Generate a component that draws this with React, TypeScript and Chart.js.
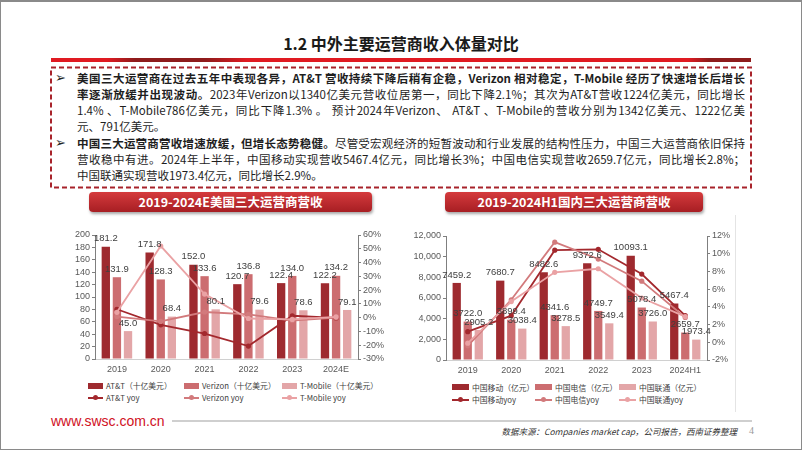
import React, { useEffect, useRef } from "react";
import { Chart, registerables } from "chart.js";

Chart.register(...registerables);

// ---------- DATA ----------
const usYears = ["2019", "2020", "2021", "2022", "2023", "2024E"];
const attRevenue = [181.2, 171.8, 152.0, 120.7, 122.4, 122.2];
const verizonRevenue = [131.9, 128.3, 133.6, 136.8, 134.0, 134.2];
const tmobileRevenue = [45.0, 68.4, 80.1, 79.6, 78.6, 79.1];
const attYoy = [6.1, -5.2, -11.5, -20.6, 1.4, -0.2];
const verizonYoy = [0.8, -2.7, 4.1, 2.4, -2.1, 0.1];
const tmobileYoy = [3.9, 52.0, 17.1, -0.6, -1.3, 0.6];
const usSeriesNames = ["AT&T（十亿美元）", "Verizon（十亿美元）", "T-Mobile（十亿美元）"];
const usYoyNames = ["AT&T yoy", "Verizon yoy", "T-Mobile yoy"];

const cnYears = ["2019", "2020", "2021", "2022", "2023", "2024H1"];
const cmRevenue = [7459.2, 7680.7, 8482.6, 9372.6, 10093.1, 5467.4];
const ctRevenue = [3722.0, 3899.4, 4341.6, 4749.7, 5078.4, 2659.7];
const cuRevenue = [2905.2, 3038.4, 3278.5, 3549.4, 3726.0, 1973.4];
const cmYoy = [1.2, 3.0, 10.4, 10.5, 7.7, 3.0];
const ctYoy = [-0.4, 4.8, 11.3, 9.4, 6.9, 2.8];
const cuYoy = [-0.1, 4.6, 7.9, 8.3, 5.0, 2.9];
const cnSeriesNames = ["中国移动（亿元）", "中国电信（亿元）", "中国联通（亿元）"];
const cnYoyNames = ["中国移动yoy", "中国电信yoy", "中国联通yoy"];

// axis ranges
const usLeftAxis = [0, 200, 20];
const usRightAxis = [-30, 60, 10];
const cnLeftAxis = [0, 12000, 2000];
const cnRightAxis = [-2, 12, 2];

// ---------- STYLE ----------
const barColors = ["#9E2A2F", "#CC6D70", "#E3A6A8"];
const lineColors = ["#A3282D", "#D27A7C", "#EAA2A4"];
const tickFont = "'Liberation Sans Narrow', 'Liberation Sans', Arial, sans-serif";
const cjk = "'Noto Sans CJK SC', 'Noto Sans', sans-serif";

const valueLabelPlugin = {
  id: "valueLabels",
  afterDatasetsDraw(chart: any) {
    const ctx = chart.ctx;
    ctx.save();
    ctx.font = `9.5px ${tickFont}`;
    ctx.fillStyle = "#404040";
    ctx.textAlign = "center";
    ctx.textBaseline = "middle";
    chart.data.datasets.forEach((ds: any, i: number) => {
      if (ds.type !== "bar") return;
      const meta = chart.getDatasetMeta(i);
      meta.data.forEach((el: any, j: number) => {
        ctx.fillText(Number(ds.data[j]).toFixed(1), el.x, el.y - 8);
      });
    });
    ctx.restore();
  },
};

type ComboProps = {
  left: number;
  top: number;
  width: number;
  height: number;
  labels: string[];
  bars: number[][];
  lines: number[][];
  barNames: string[];
  lineNames: string[];
  yAxis: number[];
  y1Axis: number[];
  yWidth: number;
  y1Width: number;
  fmtY: (v: number) => string;
};

function ComboChart(p: ComboProps) {
  const ref = useRef<HTMLCanvasElement>(null);
  useEffect(() => {
    if (!ref.current) return;
    const axisColor = "#7f7f7f";
    const datasets: any[] = [];
    p.bars.forEach((d, i) =>
      datasets.push({
        type: "bar",
        label: p.barNames[i],
        data: d,
        yAxisID: "y",
        backgroundColor: barColors[i],
        categoryPercentage: 0.76,
        barPercentage: 0.75,
        order: 2,
      })
    );
    p.lines.forEach((d, i) =>
      datasets.push({
        type: "line",
        label: p.lineNames[i],
        data: d,
        yAxisID: "y1",
        borderColor: lineColors[i],
        backgroundColor: lineColors[i],
        pointBackgroundColor: lineColors[i],
        pointBorderWidth: 0,
        pointRadius: 2.6,
        borderWidth: 1.8,
        tension: 0,
        order: 1 - i * 0.1,
      })
    );
    const chart = new Chart(ref.current, {
      type: "bar",
      data: { labels: p.labels, datasets },
      options: {
        animation: false,
        responsive: false,
        maintainAspectRatio: false,
        layout: { padding: { top: 20, left: 0, right: 0, bottom: 0 } },
        plugins: { legend: { display: false }, tooltip: { enabled: false } },
        scales: {
          x: {
            grid: { drawOnChartArea: false, drawTicks: false },
            border: { display: true, color: "#d0d0d0" },
            ticks: { color: "#595959", font: { size: 9, family: tickFont }, padding: 5, autoSkip: false, maxRotation: 0 },
            afterFit: (s: any) => {
              s.height = 20;
            },
          },
          y: {
            position: "left",
            min: p.yAxis[0],
            max: p.yAxis[1],
            ticks: {
              stepSize: p.yAxis[2],
              autoSkip: false,
              color: "#595959",
              font: { size: 9, family: tickFont },
              padding: 2,
              callback: (v: any) => p.fmtY(Number(v)),
            },
            grid: { drawOnChartArea: false, drawTicks: true, tickLength: 3, color: axisColor },
            border: { display: true, color: axisColor },
            afterFit: (s: any) => {
              s.width = p.yWidth;
            },
          },
          y1: {
            position: "right",
            min: p.y1Axis[0],
            max: p.y1Axis[1],
            ticks: {
              stepSize: p.y1Axis[2],
              autoSkip: false,
              color: "#595959",
              font: { size: 9, family: tickFont },
              padding: 2,
              callback: (v: any) => `${v}%`,
            },
            grid: { drawOnChartArea: false, drawTicks: true, tickLength: 3, color: axisColor },
            border: { display: true, color: axisColor },
            afterFit: (s: any) => {
              s.width = p.y1Width;
            },
          },
        },
      } as any,
      plugins: [valueLabelPlugin],
    });
    return () => chart.destroy();
  }, []);
  return (
    <canvas
      ref={ref}
      width={p.width}
      height={p.height}
      style={{ position: "absolute", left: p.left, top: p.top, width: p.width, height: p.height }}
    />
  );
}

function Legend(props: {
  left: number[];
  rows: number[];
  swatchW: number;
  barNames: string[];
  lineNames: string[];
}) {
  const items: any[] = [];
  props.barNames.forEach((n, i) => {
    items.push(
      <div key={"b" + i} style={{ position: "absolute", left: props.left[i], top: props.rows[0] - 6, height: 12, display: "flex", alignItems: "center", whiteSpace: "nowrap" }}>
        <span style={{ display: "inline-block", width: props.swatchW, height: 6, background: barColors[i], marginRight: 3 }} />
        <span style={{ fontSize: 7.8, fontFamily: cjk, color: "#404040" }}>{n}</span>
      </div>
    );
  });
  props.lineNames.forEach((n, i) => {
    items.push(
      <div key={"l" + i} style={{ position: "absolute", left: props.left[i], top: props.rows[1] - 6, height: 12, display: "flex", alignItems: "center", whiteSpace: "nowrap" }}>
        <span style={{ position: "relative", display: "inline-block", width: props.swatchW, height: 6, marginRight: 3 }}>
          <span style={{ position: "absolute", left: 0, top: 2, width: props.swatchW, height: 2, background: lineColors[i] }} />
          <span style={{ position: "absolute", left: props.swatchW / 2 - 2.5, top: 0.5, width: 5, height: 5, borderRadius: 3, background: lineColors[i] }} />
        </span>
        <span style={{ fontSize: 7.8, fontFamily: cjk, color: "#404040" }}>{n}</span>
      </div>
    );
  });
  return <>{items}</>;
}

const lineStyle = (top: number, justify: boolean): any => ({
  position: "absolute",
  left: 77,
  top: top - 8,
  width: 668,
  height: 16,
  lineHeight: "16px",
  fontSize: 11.5,
  overflow: "hidden",
  textAlign: justify ? "justify" : "left",
  textAlignLast: justify ? "justify" : "left",
  color: "#1e1e1e",
});

export default function App() {
  const B = (t: string) => <b style={{ fontWeight: 700 }}>{t}</b>;
  const bullet: any = { position: "absolute", left: 55, fontSize: 13, lineHeight: "16px", fontFamily: "'DejaVu Sans', sans-serif", color: "#222", fontWeight: 700 };
  return (
    <div
      style={{
        position: "fixed",
        left: 0,
        top: 0,
        width: 802,
        height: 451,
        background: "#fff",
        fontFamily: cjk,
        overflow: "hidden",
      }}
    >
      <div style={{ position: "absolute", left: 0, top: 0, width: 802, height: 450, border: "1px solid #8a8a8a", borderTopWidth: 2, boxSizing: "border-box" }} />
      {/* title */}
      <div style={{ position: "absolute", left: 0, top: 32, width: 802, textAlign: "center", fontSize: 16, fontWeight: 700, lineHeight: "22px", color: "#1a1a1a" }}>
        1.2 中外主要运营商收入体量对比
      </div>
      <div
        style={{
          position: "absolute",
          left: 51,
          top: 58,
          width: 700,
          height: 4,
          background:
            "linear-gradient(to right, #e01a22 0%, #e01a22 8%, #8e1b1b 12%, #8e1b1b 22%, #e01a22 28%, #e01a22 91%, #8e1b1b 94%, #8e1b1b 100%)",
        }}
      />
      {/* dashed box */}
      <svg style={{ position: "absolute", left: 0, top: 0 }} width={802} height={451}>
        <rect x={51} y={67.5} width={700} height={120} fill="none" stroke="#a8232b" strokeWidth={2} strokeDasharray="5 3" />
      </svg>
      <div style={{ ...bullet, top: 70 }}>➢</div>
      <div style={{ ...bullet, top: 135 }}>➢</div>
      <div style={lineStyle(78, true)}>
        {B("美国三大运营商在过去五年中表现各异，AT&T 营收持续下降后稍有企稳，Verizon 相对稳定，T-Mobile 经历了快速增长后增长")}
      </div>
      <div style={lineStyle(94, true)}>
        {B("率逐渐放缓并出现波动。")}2023年Verizon以1340亿美元营收位居第一，同比下降2.1%；其次为AT&T营收1224亿美元，同比增长
      </div>
      <div style={lineStyle(110, true)}>
        1.4% 、T-Mobile786亿美元，同比下降1.3% 。 预计2024年Verizon、 AT&T 、T-Mobile的营收分别为1342亿美元、1222亿美
      </div>
      <div style={lineStyle(126, false)}>元、791亿美元。</div>
      <div style={lineStyle(143, true)}>
        {B("中国三大运营商营收增速放缓，但增长态势稳健。")}尽管受宏观经济的短暂波动和行业发展的结构性压力，中国三大运营商依旧保持
      </div>
      <div style={lineStyle(159, true)}>
        营收稳中有进。2024年上半年，中国移动实现营收5467.4亿元，同比增长3%；中国电信实现营收2659.7亿元，同比增长2.8%；
      </div>
      <div style={lineStyle(175, false)}>中国联通实现营收1973.4亿元，同比增长2.9%。</div>

      {/* chart titles */}
      <div style={{ position: "absolute", left: 89, top: 192, width: 283, height: 20, borderRadius: 4, background: "linear-gradient(#d53b3d, #a71e23)", boxShadow: "1px 2px 3px rgba(0,0,0,0.35)", color: "#fff", fontWeight: 700, fontSize: 12.5, lineHeight: "20px", textAlign: "center" }}>
        2019-2024E美国三大运营商营收
      </div>
      <div style={{ position: "absolute", left: 445, top: 192, width: 258, height: 20, borderRadius: 4, background: "linear-gradient(#d53b3d, #a71e23)", boxShadow: "1px 2px 3px rgba(0,0,0,0.35)", color: "#fff", fontWeight: 700, fontSize: 12.5, lineHeight: "20px", textAlign: "center" }}>
        2019-2024H1国内三大运营商营收
      </div>

      <ComboChart
        left={60}
        top={215}
        width={335}
        height={164}
        labels={usYears}
        bars={[attRevenue, verizonRevenue, tmobileRevenue]}
        lines={[attYoy, verizonYoy, tmobileYoy]}
        barNames={usSeriesNames}
        lineNames={usYoyNames}
        yAxis={usLeftAxis}
        y1Axis={usRightAxis}
        yWidth={35}
        y1Width={37}
        fmtY={(v) => String(v)}
      />
      <ComboChart
        left={410}
        top={216}
        width={330}
        height={164}
        labels={cnYears}
        bars={[cmRevenue, ctRevenue, cuRevenue]}
        lines={[cmYoy, ctYoy, cuYoy]}
        barNames={cnSeriesNames}
        lineNames={cnYoyNames}
        yAxis={cnLeftAxis}
        y1Axis={cnRightAxis}
        yWidth={36}
        y1Width={33}
        fmtY={(v) => v.toLocaleString("en-US")}
      />
      <Legend left={[88, 184, 282]} rows={[385.5, 397.5]} swatchW={15} barNames={usSeriesNames} lineNames={usYoyNames} />
      <Legend left={[452, 535, 619]} rows={[387, 399.5]} swatchW={17} barNames={cnSeriesNames} lineNames={cnYoyNames} />

      <div style={{ position: "absolute", left: 735, top: 215, width: 1, height: 197, background: "#e4e4e4" }} />

      {/* footer */}
      <div style={{ position: "absolute", left: 51, top: 412, fontSize: 14, lineHeight: "18px", fontFamily: "'Liberation Sans', Arial, sans-serif", color: "#d0101e" }}>
        www.swsc.com.cn
      </div>
      <div style={{ position: "absolute", left: 172, top: 420, width: 580, height: 2, background: "#cfcfcf" }} />
      <div style={{ position: "absolute", right: 802 - 737, top: 425, fontSize: 8.5, lineHeight: "12px", fontStyle: "italic", color: "#333", whiteSpace: "nowrap" }}>
        数据来源：Companies market cap，公司报告，西南证券整理
      </div>
      <div style={{ position: "absolute", left: 749, top: 424, fontSize: 10, lineHeight: "14px", fontFamily: "'Liberation Serif', serif", color: "#9a9a9a" }}>4</div>
    </div>
  );
}
